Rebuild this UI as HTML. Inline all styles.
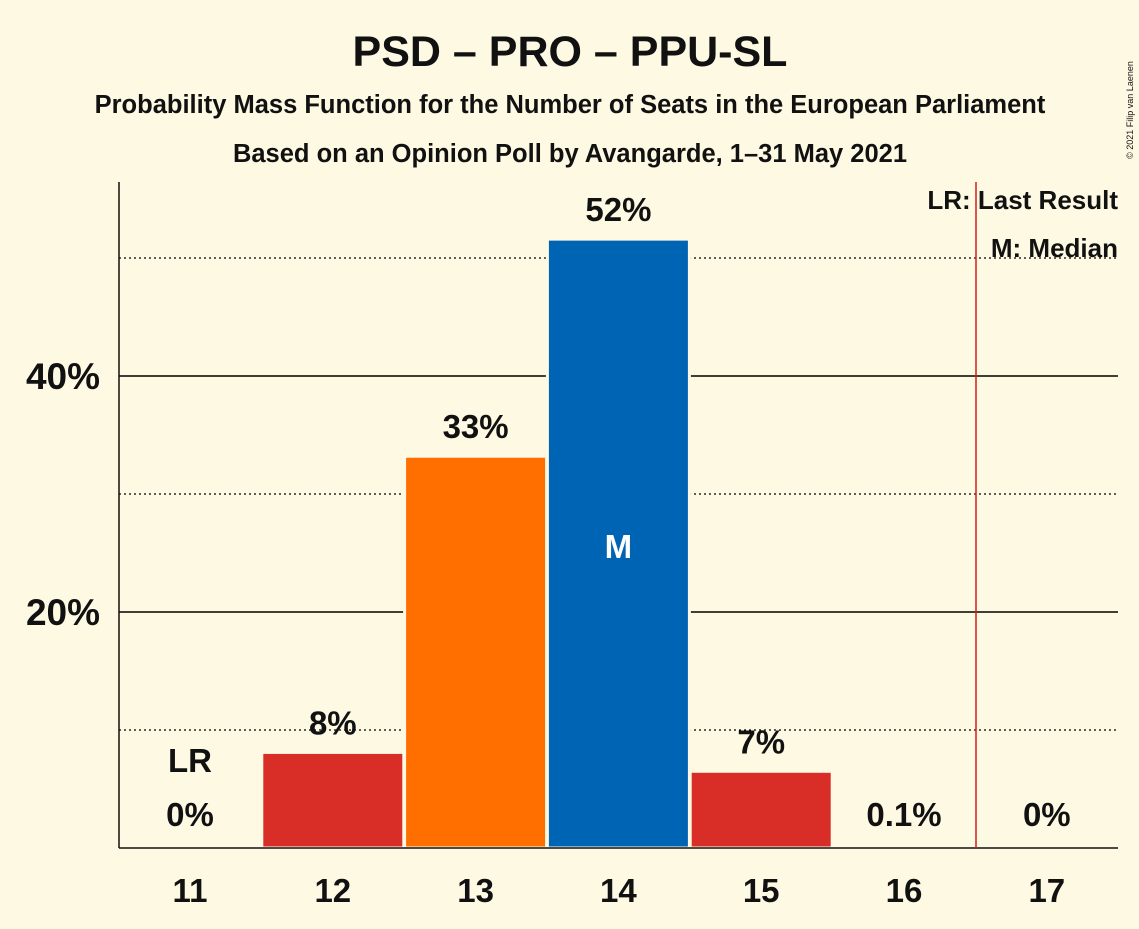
<!DOCTYPE html>
<html><head><meta charset="utf-8"><style>
body{margin:0;background:#fef9e3;}
svg text{font-family:"Liberation Sans",sans-serif;font-weight:bold;fill:#111;}
</style></head><body>
<svg width="1139" height="924" viewBox="0 0 1139 924">
<rect width="1139" height="924" fill="#fef9e3"/>
<text x="570" y="66" font-size="43" text-anchor="middle">PSD – PRO – PPU-SL</text>
<text x="570" y="113" font-size="25.5" text-anchor="middle">Probability Mass Function for the Number of Seats in the European Parliament</text>
<text x="570" y="162" font-size="25.5" text-anchor="middle">Based on an Opinion Poll by Avangarde, 1–31 May 2021</text>
<text x="1133" y="110" font-size="9" transform="rotate(-90 1133 110)" text-anchor="middle" style="font-weight:normal">© 2021 Filip van Laenen</text>
<g id="grid"></g>
<g id="bars"></g>
<line x1="119" y1="182" x2="119" y2="848" stroke="#111" stroke-width="1.5"/>
<line x1="119" y1="848" x2="1118" y2="848" stroke="#111" stroke-width="1.5"/>
<line x1="976" y1="182" x2="976" y2="848" stroke="#d0211c" stroke-width="1.5"/>
<text x="1118" y="209" font-size="26" text-anchor="end">LR: Last Result</text>
<text x="1118" y="257" font-size="26" text-anchor="end">M: Median</text>
<g id="labels"></g>
</svg>
<script>
const categories=[11,12,13,14,15,16,17];
const values=[0,8.1,33.2,51.6,6.5,0.1,0];
const valueLabels=["0%","8%","33%","52%","7%","0.1%","0%"];
const colors=["#d92e27","#d92e27","#ff6f00","#0064b4","#d92e27","#d92e27","#d92e27"];
const yTicks=[20,40];
const yDotted=[10,30,50];
const lastResult=11, median=14;
const NS="http://www.w3.org/2000/svg";
const y=v=>848-v*11.8;
const x=c=>190+(c-11)*142.8;
function mk(t,a,p){const e=document.createElementNS(NS,t);for(const k in a)e.setAttribute(k,a[k]);p.appendChild(e);return e;}
const grid=document.getElementById('grid'),bars=document.getElementById('bars'),labels=document.getElementById('labels');
yDotted.forEach(v=>{const l=mk('line',{x1:119,x2:1118,y1:y(v),y2:y(v),stroke:'#000','stroke-width':1.2,'stroke-dasharray':'2,3'},grid);

});
yTicks.forEach(v=>{const l=mk('line',{x1:119,x2:1118,y1:y(v),y2:y(v),stroke:'#000','stroke-width':1.5},grid);


const t=mk('text',{x:100,y:y(v)+13,'font-size':37,'text-anchor':'end'},labels);t.textContent=v+'%';

});
categories.forEach((c,i)=>{
 const v=values[i];
 if(v>0){const r=mk('rect',{x:x(c)-71,y:y(v),width:142,height:848-y(v),fill:colors[i],stroke:'#fef9e3','stroke-width':3},bars);
 
 }
 const ly=v>1?y(v)-18:826;
 const t=mk('text',{x:x(c),y:ly,'font-size':33,'text-anchor':'middle'},labels);t.textContent=valueLabels[i];
 
 
 const xt=mk('text',{x:x(c),y:902,'font-size':33,'text-anchor':'middle'},labels);xt.textContent=c;
 
 
 if(c===lastResult){const lr=mk('text',{x:x(c),y:772,'font-size':33,'text-anchor':'middle'},labels);lr.textContent='LR';
 
 }
 if(c===median){const m=mk('text',{x:x(c),y:558,'font-size':33,'text-anchor':'middle',style:'fill:#fff'},labels);m.textContent='M';
 
 }
});
</script>
</body></html>
